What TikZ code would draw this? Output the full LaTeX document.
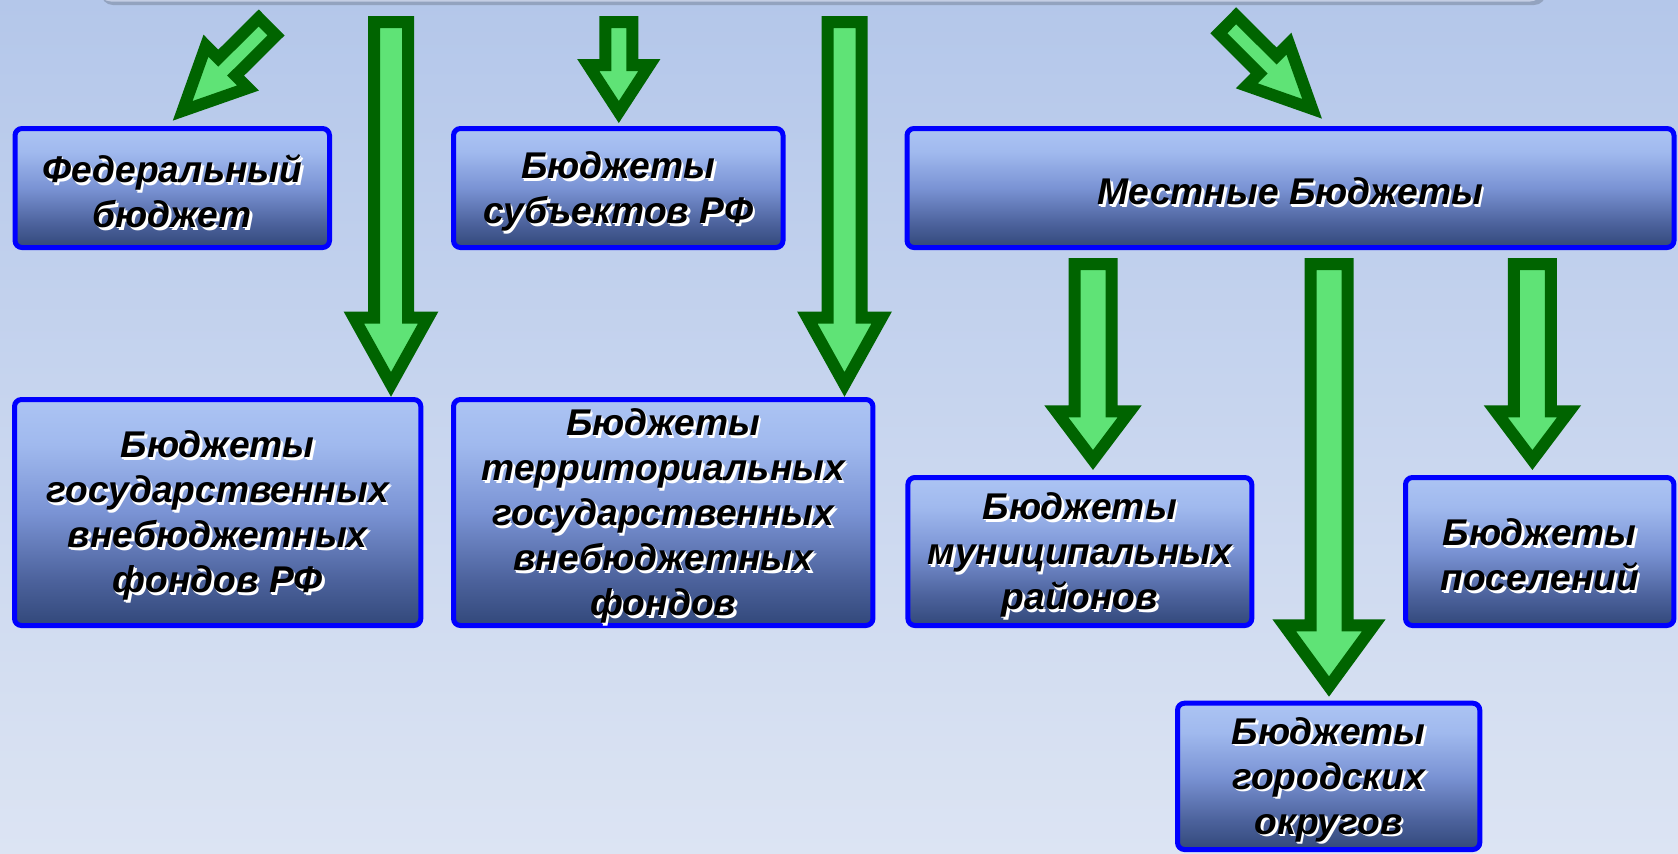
\documentclass[tikz,border=0pt]{standalone}
\usepackage{fontspec}
\setmainfont{Liberation Sans}
\usetikzlibrary{calc}
\definecolor{bgtop}{RGB}{180,199,234}
\definecolor{bgbot}{RGB}{220,228,243}
\definecolor{bxA}{RGB}{172,196,243}
\definecolor{bxB}{RGB}{160,185,238}
\definecolor{bxC}{RGB}{122,147,212}
\definecolor{bxD}{RGB}{76,98,156}
\definecolor{bxE}{RGB}{50,72,122}
\definecolor{lgreen}{RGB}{95,227,118}
\definecolor{dgreen}{RGB}{0,100,0}
\definecolor{bblue}{RGB}{0,0,255}
\definecolor{barcol}{RGB}{196,206,228}
\definecolor{glow}{RGB}{255,255,255}
\pgfdeclareverticalshading{boxsh}{100bp}{color(0bp)=(bxE); color(25bp)=(bxE); color(35bp)=(bxD); color(50bp)=(bxC); color(65bp)=(bxB); color(75bp)=(bxA); color(100bp)=(bxA)}
\newcommand\gl[1]{\leavevmode\rlap{\textcolor{glow}{\kern1.3pt\raisebox{-1.3pt}{#1}}}\rlap{\textcolor{glow}{\kern0.5pt\raisebox{-0.7pt}{#1}}}#1}
\newcommand\bx[6]{\node[bxstyle, minimum width={(#4-#2-5)*0.5pt}, minimum height={(#5-#3-5)*0.5pt}] (#1) at ({(#2+#4)/2},{(#3+#5)/2}) {};
\node[txtstyle] (#1-t) at ([yshift=-2.3pt]#1.center) {#6};}
\newcommand\varr[7]{\draw[garr] ({#2-#6},#3) -- ({#2+#6},#3) -- ({#2+#6},#4) -- ({#2+#7},#4) -- (#2,#5) -- ({#2-#7},#4) -- ({#2-#6},#4) -- cycle;
\coordinate (#1) at (#2,#5);}
\newcommand\darr[3]{\begin{scope}[shift={(#2)}, rotate=#3]
\draw[garr] (0,-12.3) -- (57,-12.3) -- (57,-29.8) -- (119.4,0) -- (57,29.8) -- (57,12.3) -- (0,12.3) -- cycle;
\coordinate (#1) at (119.4,0);
\end{scope}}
\begin{document}
\begin{tikzpicture}[x=0.5pt,y=-0.5pt,
  bxstyle/.style={draw=bblue, line width=2.5pt, rounded corners=3.5pt, shading=boxsh, inner sep=0pt},
  txtstyle/.style={inner sep=0pt, align=center, text=black,
    font=\fontsize{18.6}{22.5}\selectfont\bfseries\itshape},
  garr/.style={draw=dgreen, fill=lgreen, line width=6pt, line join=miter, miter limit=10}]
\useasboundingbox (0,0) rectangle (1678,853);
\shade[top color=bgtop, bottom color=bgbot] (0,0) rectangle (1678,853);
% top bar (cut off)
\fill[black, opacity=0.18, rounded corners=6pt] (101,-60) rectangle (1546,5);
\fill[barcol, rounded corners=6pt] (99,-60) rectangle (1542,1.5);
% boxes
\bx{fed}{12.5}{126}{332}{250}{\gl{Федеральный}\\\gl{бюджет}}
\bx{subj}{451}{126}{785.5}{250}{\gl{Бюджеты}\\\gl{субъектов РФ}}
\bx{mest}{904.5}{126}{1676.5}{250}{\gl{Местные Бюджеты}}
\bx{gvf}{12}{397}{423.3}{628}{\gl{Бюджеты}\\\gl{государственных}\\\gl{внебюджетных}\\\gl{фондов РФ}}
\bx{tgvf}{451}{397}{875.4}{628}{\gl{Бюджеты}\\\gl{территориальных}\\\gl{государственных}\\\gl{внебюджетных}\\\gl{фондов}}
\bx{mun}{905.4}{475}{1254.3}{628}{\gl{Бюджеты}\\\gl{муниципальных}\\\gl{районов}}
\bx{pos}{1403}{475}{1676.4}{628}{\gl{Бюджеты}\\\gl{поселений}}
\bx{gor}{1175}{700.7}{1482.3}{852}{\gl{Бюджеты}\\\gl{городских}\\\gl{округов}}
% arrows
\darr{tfed}{267.4,26.7}{224.8}
\darr{tmest}{1227.5,24.5}{-44.9}
\varr{tgvf1}{391}{22}{317.7}{384.4}{17}{37.1}
\varr{tsubj}{618.8}{22}{65}{112}{13.5}{30.6}
\varr{ttgvf}{844.5}{22}{317.7}{384.4}{17}{37.1}
\varr{tmun}{1093}{264}{411.3}{460}{18.5}{36.7}
\varr{tgor}{1329}{264}{625.3}{686.5}{18.5}{44.8}
\varr{tpos}{1532.4}{264}{411.3}{460}{18.5}{36.7}
\end{tikzpicture}
\end{document}
